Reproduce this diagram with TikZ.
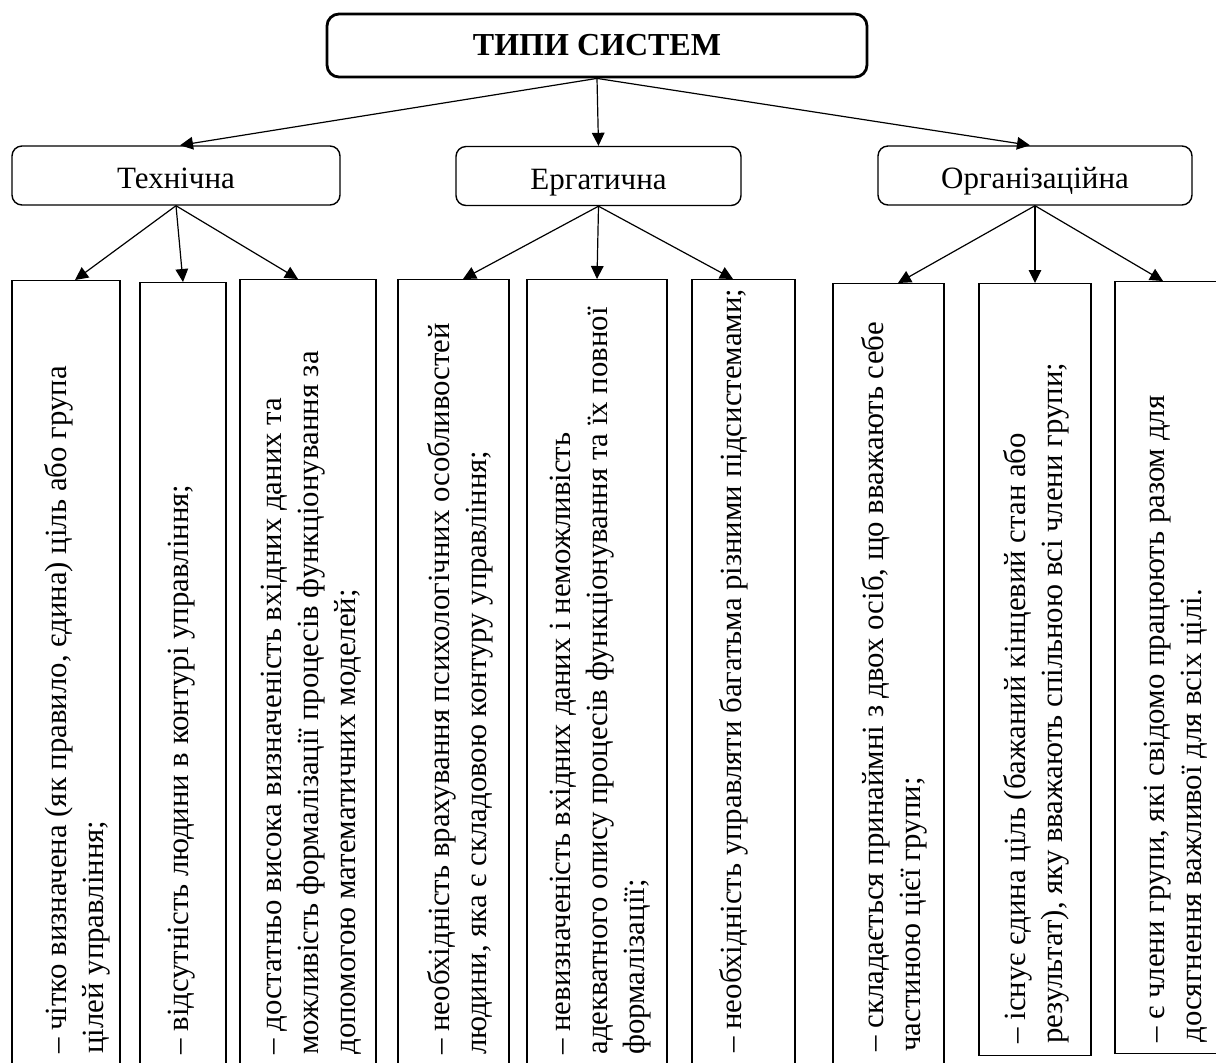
\documentclass[tikz,border=0pt]{standalone}
\usepackage{fontspec}
\setmainfont{Liberation Serif}
\usetikzlibrary{arrows.meta}

\begin{document}
\begin{tikzpicture}[
  x=0.5pt, y=-0.5pt,
  root/.style = {draw, line width=1.4pt, rounded corners=6pt, inner sep=0pt,
                 minimum width=270pt, minimum height=31.5pt,
                 font=\fontsize{16}{19}\selectfont\bfseries},
  kind/.style = {draw, line width=0.7pt, rounded corners=5pt, inner sep=0pt,
                 minimum height=29.5pt, text height=13pt, text depth=0pt,
                 font=\fontsize{15.5}{18}\selectfont},
  leaf/.style = {draw, line width=0.7pt, anchor=north, inner sep=0pt},
  note/.style = {rotate=90, anchor=west, align=left, inner sep=0pt,
                 font=\fontsize{15.4}{18.5}\selectfont},
  link/.style = {-{Triangle[length=6.5pt, width=6.3pt]}, line width=0.6pt}
]
\useasboundingbox (0,0) rectangle (1216,1062);
\clip (0,0) rectangle (1216,1062);

% ---------- root -----------------------------------------------------------
\node[root] (types) at (597,45.5) {ТИПИ СИСТЕМ};

% ---------- three kinds ----------------------------------------------------
\node[kind, minimum width=164pt]   (tech) at (176,175.5)  {Технічна};
\node[kind, minimum width=142.5pt] (erg)  at (598.5,176)  {Ергатична};
\node[kind, minimum width=157pt]   (org)  at (1035,175.5) {Організаційна};

\draw[link] (types.south) -- ([xshift=2pt]tech.north);
\draw[link] (types.south) -- (erg.north);
\draw[link] (types.south) -- ([xshift=-2.5pt]org.north);

% ---------- technical ------------------------------------------------------
\node[leaf, minimum width=54pt, minimum height=397.5pt] (t1) at (66,280) {};
\node[leaf, minimum width=43pt, minimum height=396.5pt] (t2) at (183,282) {};
\node[leaf, minimum width=68pt, minimum height=398pt]   (t3) at (308,279) {};

\node[note] at (77,1054)
  {– чітко визначена (як правило, єдина) ціль або група\\
   цілей управління;};
\node[note] at (182,1055)
  {– відсутність людини в контурі управління;};
\node[note] at (311,1055)
  {– достатньо висока визначеність вхідних даних та\\
   можливість формалізації процесів функціонування за\\
   допомогою математичних моделей;};

\draw[link] (tech.south) -- ([xshift=4.5pt]t1.north);
\draw[link] (tech.south) -- (t2.north);
\draw[link] (tech.south) -- ([xshift=-5pt]t3.north);

% ---------- ergatic --------------------------------------------------------
\node[leaf, minimum width=55.5pt, minimum height=398pt] (e1) at (453.5,279) {};
\node[leaf, minimum width=70pt,   minimum height=398pt] (e2) at (597,279) {};
\node[leaf, minimum width=51.5pt, minimum height=398pt] (e3) at (743.5,279) {};

\node[note] at (460,1055)
  {– необхідність врахування психологічних особливостей\\
   людини, яка є складовою контуру управління;};
\node[note] at (601,1055)
  {– невизначеність вхідних даних і неможливість\\
   адекватного опису процесів функціонування та їх повної\\
   формалізації;};
\node[note] at (734,1053)
  {– необхідність управляти багатьма різними підсистемами;};

\draw[link] (erg.south) -- ([xshift=4.75pt]e1.north);
\draw[link] (erg.south) -- (e2.north);
\draw[link] (erg.south) -- ([xshift=-5.25pt]e3.north);

% ---------- organisational -------------------------------------------------
\node[leaf, minimum width=55.5pt, minimum height=396pt] (o1) at (888.5,283) {};
\node[leaf, minimum width=56pt,   minimum height=386pt] (o2) at (1035,283) {};
\node[leaf, minimum width=53.5pt, minimum height=386pt] (o3) at (1168.5,281) {};

\node[note] at (894,1052)
  {– складається принаймні з двох осіб, що вважають себе\\
   частиною цієї групи;};
\node[note] at (1036,1044)
  {– існує єдина ціль (бажаний кінцевий стан або\\
   результат), яку вважають спільною всі члени групи;};
\node[note] at (1176,1043)
  {– є члени групи, які свідомо працюють разом для\\
   досягнення важливої для всіх цілі.};

\draw[link] (org.south) -- ([xshift=4.75pt]o1.north);
\draw[link] (org.south) -- (o2.north);
\draw[link] (org.south) -- ([xshift=-2.75pt]o3.north);

\end{tikzpicture}
\end{document}
